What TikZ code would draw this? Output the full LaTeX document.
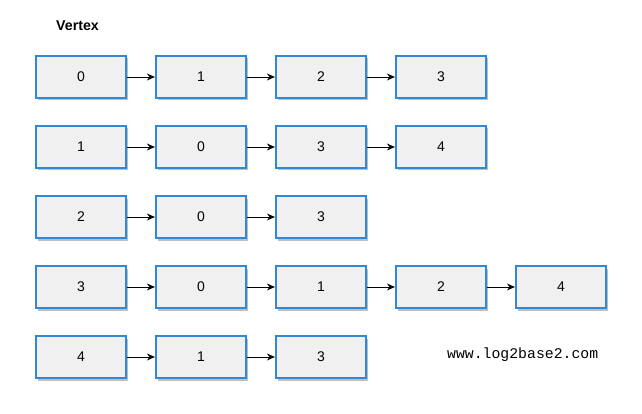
\documentclass[tikz,border=0pt]{standalone}
\usepackage{fontspec}
\setmainfont{Liberation Sans}
\newfontfamily\urlfont{Liberation Mono}
\usetikzlibrary{shadows,arrows.meta}
\definecolor{boxblue}{HTML}{2F88D8}
\definecolor{boxfill}{HTML}{F0F0F0}
\tikzset{
  vbox/.style={draw=boxblue, line width=2.2pt, fill=boxfill, minimum width=90pt, minimum height=42pt,
    inner sep=0pt, font=\fontsize{14}{16}\selectfont,
    drop shadow={shadow xshift=1.5pt, shadow yshift=-2.5pt, opacity=0.25, fill=black}},
  link/.style={draw=black, line width=0.9pt, -{Stealth[length=8pt,width=7pt]}}
}
\begin{document}
\begin{tikzpicture}[x=1pt,y=-1pt]
\useasboundingbox (0,0) rectangle (642,414);
\node[font=\bfseries\fontsize{14.2}{16}\selectfont, anchor=west, inner sep=0pt] (title) at (56,26) {Vertex};
\foreach \r/\lst in {0/{0,1,2,3},1/{1,0,3,4},2/{2,0,3},3/{3,0,1,2,4},4/{4,1,3}}{
  \foreach \v [count=\c from 0] in \lst {
    \node[vbox] (r\r c\c) at ({81+120*\c},{77+70*\r}) {\v};
  }
}
\foreach \r/\n in {0/3,1/3,2/2,3/4,4/2}{
  \foreach \c [evaluate=\c as \p using int(\c-1)] in {1,...,\n}{
    \draw[link] (r\r c\p.east) -- (r\r c\c.west);
  }
}
\node[font=\urlfont\fontsize{14.8}{16}\selectfont, anchor=west, inner sep=0pt,
  text=black] (url) at (447,355) {www.log2base2.com};
\end{tikzpicture}
\end{document}
